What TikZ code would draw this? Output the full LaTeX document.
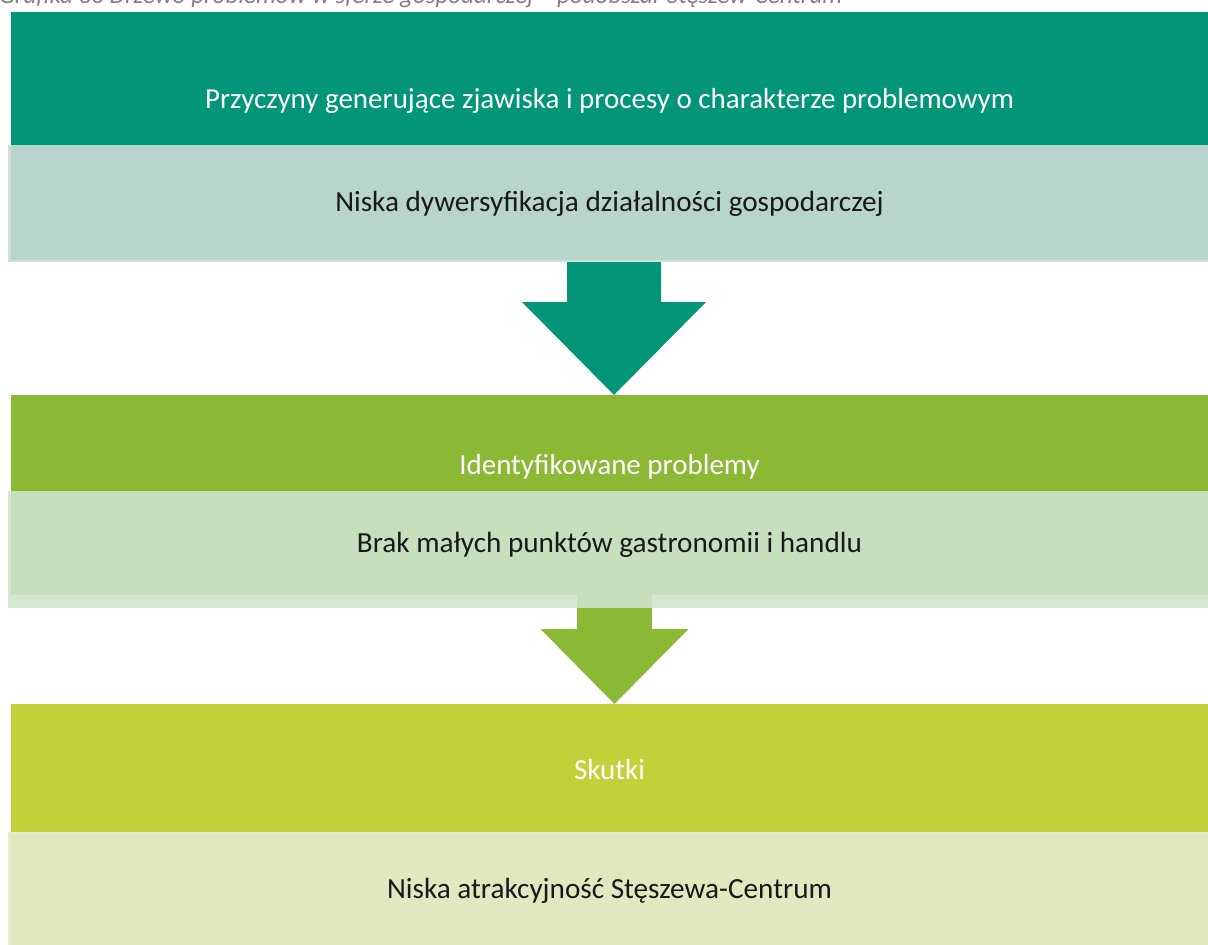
\documentclass[tikz,border=0pt]{standalone}
\usepackage{fontspec}
\setmainfont{Carlito}
\usetikzlibrary{calc}
\definecolor{dgreen}{HTML}{039577}
\definecolor{lteal}{HTML}{B7D5CC}
\definecolor{lteale}{HTML}{CDE1DA}
\definecolor{mgreen}{HTML}{8CB935}
\definecolor{lgreen}{HTML}{C6E0BE}
\definecolor{lgreene}{HTML}{D4E8D1}
\definecolor{ygreen}{HTML}{C2D13A}
\definecolor{lyel}{HTML}{E1E8C0}
\definecolor{lyele}{HTML}{E7EDCC}
\definecolor{capgray}{HTML}{808080}
\tikzset{
  hdr/.style={anchor=north west, inner sep=0pt, outer sep=0pt, minimum width=1197pt,
    text=white, font=\fontsize{29}{34}\selectfont, text height=18.7pt, text depth=0pt},
  lbox/.style={anchor=north west, inner sep=0pt, outer sep=0pt, minimum width=1197pt,
    text=black!90, font=\fontsize{29.2}{34}\selectfont, text height=18.8pt, text depth=0pt},
}
\begin{document}
\begin{tikzpicture}[x=1pt,y=-1pt]
\useasboundingbox (0,0) rectangle (1208,945);
\clip (0,0) rectangle (1208,945);
% caption (cut off at top, as in the reference)
\node[anchor=base west, inner sep=0pt, text=capgray, font=\fontsize{25}{30}\selectfont\itshape] (cap) at (-1,3.5) {Grafika 30 Drzewo problemów w sferze gospodarczej – podobszar Stęszew-Centrum};
% headers
\node[hdr, fill=dgreen, minimum height=174pt] (h1) at (11,12) {Przyczyny generujące zjawiska i procesy o charakterze problemowym};
\node[hdr, fill=mgreen, minimum height=141pt] (h2) at (11,395) {Identyfikowane problemy};
\node[hdr, fill=ygreen, minimum height=132pt] (h3) at (11,704) {Skutki};
% light boxes
\fill[lteale] (8,145) rectangle (1208,262);
\node[lbox, fill=lteal, minimum height=115pt] (b1) at (11,145) {Niska dywersyfikacja działalności gospodarczej};
\fill[lgreene] (8,491) rectangle (1208,608);
\fill[lgreen] (577,595) rectangle (652,608);
\node[lbox, fill=lgreen, minimum height=104pt] (b2) at (11,491) {Brak małych punktów gastronomii i handlu};
\fill[lyele] (8,832) rectangle (1208,945);
\node[lbox, fill=lyel, minimum height=111pt] (b3) at (11,834) {Niska atrakcyjność Stęszewa-Centrum};
% arrows
\coordinate (t1) at (614,395);
\coordinate (s1) at (614,262);
\fill[dgreen] ($(s1)+(-47,0)$) -- ++(94,0) -- ++(0,40) -- ++(45,0) -- (t1 |- h2.north) -- ++(-92,-93) -- ++(45,0) -- cycle;
\coordinate (t2) at (614.5,704);
\coordinate (s2) at (614.5,608);
\fill[mgreen] ($(s2)+(-37.5,0)$) -- ++(75,0) -- ++(0,21) -- ++(36.5,0) -- (t2 |- h3.north) -- ++(-74,-75) -- ++(36.5,0) -- cycle;
\end{tikzpicture}
\end{document}
